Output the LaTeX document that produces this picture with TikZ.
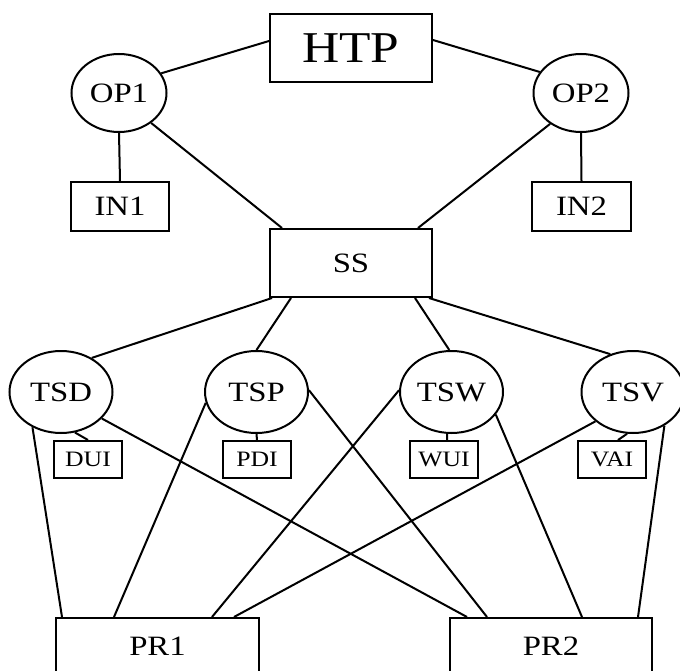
\documentclass[tikz,border=0pt]{standalone}
\usepackage{fontspec}
\setmainfont{Liberation Serif}[FakeStretch=1.17]
\usetikzlibrary{shapes.geometric}
\tikzset{
  box/.style={draw, rectangle, inner sep=0pt, line width=2pt},
  oval/.style={draw, ellipse, inner sep=0pt, line width=2pt},
  link/.style={line width=2pt},
  fbig/.style={font=\fontsize{44}{48}\selectfont},
  fmid/.style={font=\fontsize{28}{32}\selectfont},
  fsml/.style={font=\fontsize{22}{26}\selectfont},
}
\begin{document}
\begin{tikzpicture}[x=1pt,y=-1pt]
\useasboundingbox (0,0) rectangle (680,671);
\clip (0,0) rectangle (680,671);
\node[box,fbig,minimum width=162pt,minimum height=68pt] (HTP) at (351,48) {HTP};
\node[oval,fmid,minimum width=95pt,minimum height=78pt] (OP1) at (119,93) {OP1};
\node[oval,fmid,minimum width=95pt,minimum height=78pt] (OP2) at (581,93) {OP2};
\node[box,fmid,minimum width=98pt,minimum height=49pt] (IN1) at (120,206.5) {IN1};
\node[box,fmid,minimum width=99pt,minimum height=49pt] (IN2) at (581.5,206.5) {IN2};
\node[box,fmid,minimum width=162pt,minimum height=68pt] (SS) at (351,263) {SS};
\node[oval,fmid,minimum width=103pt,minimum height=82pt] (TSD) at (61,392) {TSD};
\node[oval,fmid,minimum width=103pt,minimum height=82pt] (TSP) at (256.5,392) {TSP};
\node[oval,fmid,minimum width=103pt,minimum height=82pt] (TSW) at (451.5,392) {TSW};
\node[oval,fmid,minimum width=103pt,minimum height=82pt] (TSV) at (633,392) {TSV};
\node[box,fsml,minimum width=68pt,minimum height=37pt] (DUI) at (88,459.5) {DUI};
\node[box,fsml,minimum width=68pt,minimum height=37pt] (PDI) at (257,459.5) {PDI};
\node[box,fsml,minimum width=68pt,minimum height=37pt] (WUI) at (444,459.5) {WUI};
\node[box,fsml,minimum width=68pt,minimum height=37pt] (VAI) at (612,459.5) {VAI};
\node[box,fmid,minimum width=203pt,minimum height=56pt] (PR1) at (157.5,646) {PR1};
\node[box,fmid,minimum width=202pt,minimum height=56pt] (PR2) at (551,646) {PR2};
% top
\draw[link] ([yshift=7pt]HTP.west) -- (OP1.25);
\draw[link] ([yshift=8pt]HTP.east) -- (OP2.153);
\draw[link] (OP1.south) -- (IN1.north);
\draw[link] (OP2.south) -- (IN2.north);
\draw[link] (OP1.-43) -- ([xshift=13pt]SS.north west);
\draw[link] (OP2.-135) -- ([xshift=-15pt]SS.north east);
% SS to TS
\draw[link] ([xshift=3pt]SS.south west) -- (TSD.48);
\draw[link] ([xshift=22pt]SS.south west) -- (TSP.north);
\draw[link] ([xshift=-18pt]SS.south east) -- (TSW.93);
\draw[link] ([xshift=-4pt]SS.south east) -- (TSV.121);
% TS to UI
\draw[link] (TSD.-71) -- (DUI.north);
\draw[link] (TSP.south) -- (PDI.north);
\draw[link] (TSW.-96) -- ([xshift=3pt]WUI.north);
\draw[link] (TSV.-98) -- ([xshift=6pt]VAI.north);
% TS to PR
\draw[link] (TSD.-129) -- ([xshift=7pt]PR1.north west);
\draw[link] (TSD.-33) -- ([xshift=18pt]PR2.north west);
\draw[link] (TSP.-168.6) -- ([xshift=59pt]PR1.north west);
\draw[link] (TSP.2) -- ([xshift=38pt]PR2.north west);
\draw[link] (TSW.178) -- ([xshift=-48pt]PR1.north east);
\draw[link] (TSW.-27) -- ([xshift=133pt]PR2.north west);
\draw[link] (TSV.-142) -- ([xshift=-26pt]PR1.north east);
\draw[link] (TSV.-47.6) -- ([xshift=-15pt]PR2.north east);
\end{tikzpicture}
\end{document}
